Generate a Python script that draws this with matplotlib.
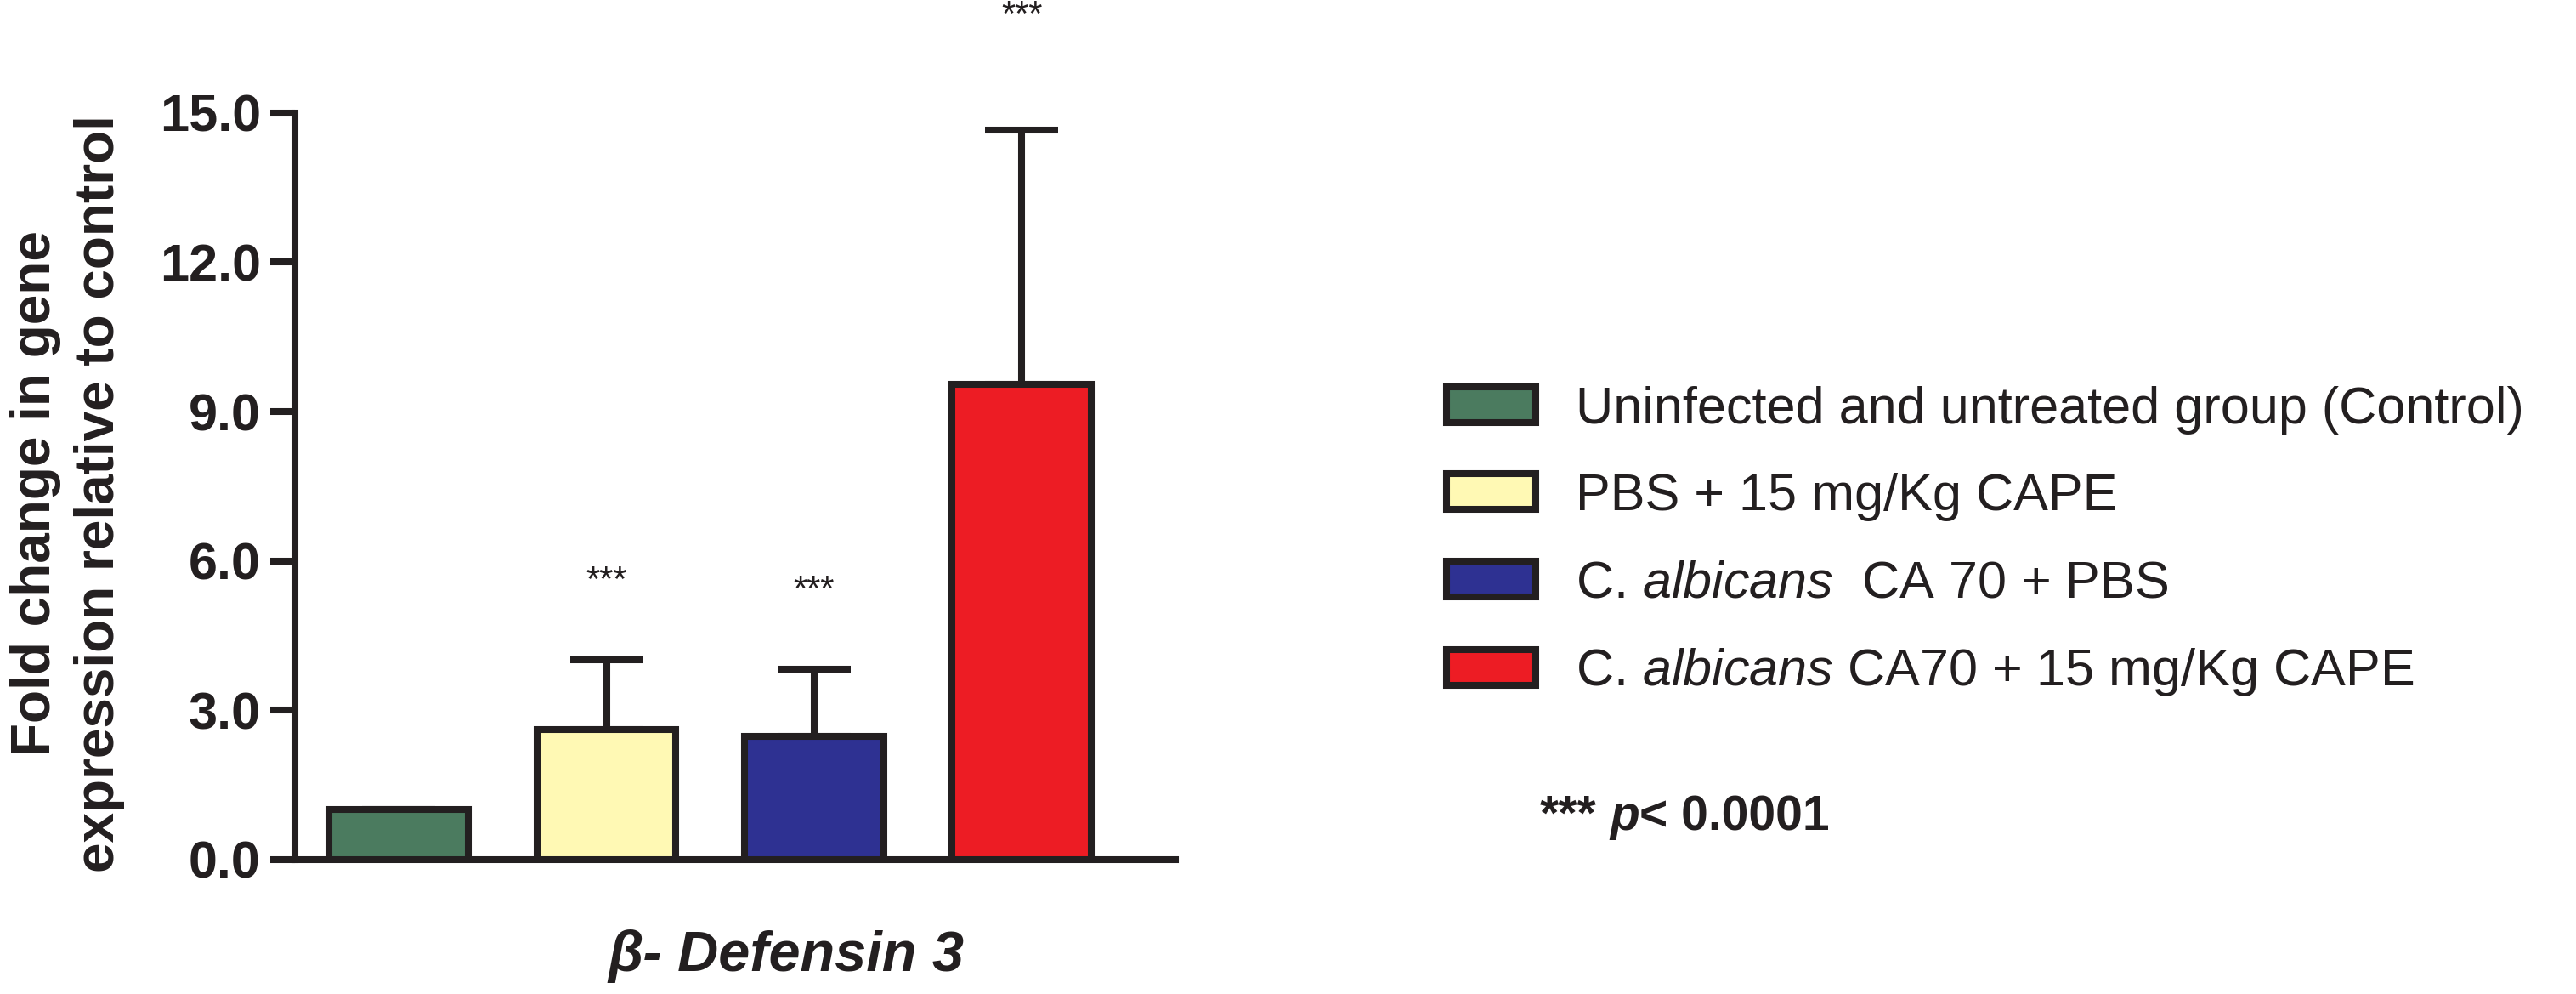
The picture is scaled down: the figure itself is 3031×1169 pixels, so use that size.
import matplotlib
matplotlib.use('Agg')
import matplotlib.pyplot as plt
import numpy as np

plt.rcParams['font.family'] = ['Liberation Sans', 'DejaVu Sans']
plt.rcParams['mathtext.fontset'] = 'custom'
plt.rcParams['mathtext.rm'] = 'Liberation Sans'
plt.rcParams['mathtext.it'] = 'Liberation Sans:italic'
plt.rcParams['mathtext.bf'] = 'Liberation Sans:bold'

# data
groups = ['Uninfected and untreated group (Control)',
          'PBS + 15 mg/Kg CAPE',
          r'C. $\mathit{albicans}$  CA 70 + PBS',
          r'C. $\mathit{albicans}$ CA70 + 15 mg/Kg CAPE']
means = [1.0, 2.61, 2.47, 9.55]
sem_up = [0.0, 1.41, 1.36, 5.11]
colors = ['#4B7B5F', '#FFF9B4', '#2E3192', '#ED1C24']
stars = ['', '***', '***', '***']
star_y = [0.0, 5.58, 5.4, 16.95]
yticks = [0.0, 3.0, 6.0, 9.0, 12.0, 15.0]

ink = '#231F20'
lw = 5.8

fig = plt.figure(figsize=(30.31, 11.69), dpi=100)
ax = fig.add_axes([0.1145, 0.1352, 0.3418, 0.8648])

x = np.arange(len(means))
bars = ax.bar(x, means, width=0.67, color=colors, edgecolor=ink,
              linewidth=lw, zorder=3)
ax.errorbar(x, means, yerr=[np.zeros(len(means)), sem_up], fmt='none',
            ecolor=ink, elinewidth=lw, capsize=31, capthick=lw, zorder=2)

for xi, s, sy in zip(x, stars, star_y):
    if s:
        ax.text(xi, sy, s, ha='center', va='center', fontsize=30,
                color=ink, clip_on=False)

ax.set_xlim(-0.5, 3.74)
ax.set_ylim(0, 17.27)
ax.set_yticks(yticks)
ax.set_yticklabels(['%.1f' % t for t in yticks], fontsize=44,
                   fontweight='bold', color=ink)
ax.set_xticks([])
ax.tick_params(axis='y', length=21, width=lw, color=ink, pad=8)
for side in ['top', 'right']:
    ax.spines[side].set_visible(False)
ax.spines['left'].set_bounds(0, 15)
for side in ['left', 'bottom']:
    ax.spines[side].set_linewidth(lw)
    ax.spines[side].set_color(ink)

ax.set_ylabel('Fold change in gene\nexpression relative to control',
              fontsize=46, fontweight='bold', color=ink, ha='center',
              va='center', linespacing=1.32)
ax.yaxis.set_label_coords(-0.258, 0.426)
ax.set_xlabel('β- Defensin 3', fontsize=48, fontweight='bold',
              fontstyle='italic', color=ink, va='center')
ax.xaxis.set_label_coords(0.558, -0.112)

leg = fig.legend(bars, groups, loc='upper left', bbox_to_anchor=(0.5615, 0.612),
                 frameon=False, fontsize=44, handlelength=1.72, handleheight=0.68,
                 handletextpad=0.77, labelspacing=0.74, borderpad=0,
                 borderaxespad=0)
for t in leg.get_texts():
    t.set_color(ink)

# p-value note, p in bold italic
t1 = fig.text(1812 / 3031, 1 - 961 / 1169, '***', fontsize=41, fontweight='bold',
              color=ink, ha='left', va='center')
t2 = fig.text(0, 0, ' p', fontsize=41, fontweight='bold', fontstyle='italic',
              color=ink, ha='left', va='baseline')
t3 = fig.text(0, 0, '< 0.0001', fontsize=41, fontweight='bold',
              color=ink, ha='left', va='baseline')
fig.canvas.draw()
r = fig.canvas.get_renderer()
tr = fig.transFigure.inverted()
bb1 = t1.get_window_extent(r)
base_y = bb1.y0 + bb1.height * 0.22
t2.set_position(tr.transform((bb1.x1, base_y)))
fig.canvas.draw()
bb2 = t2.get_window_extent(r)
t3.set_position(tr.transform((bb2.x1, base_y)))

fig.savefig('out.png', dpi=100)
